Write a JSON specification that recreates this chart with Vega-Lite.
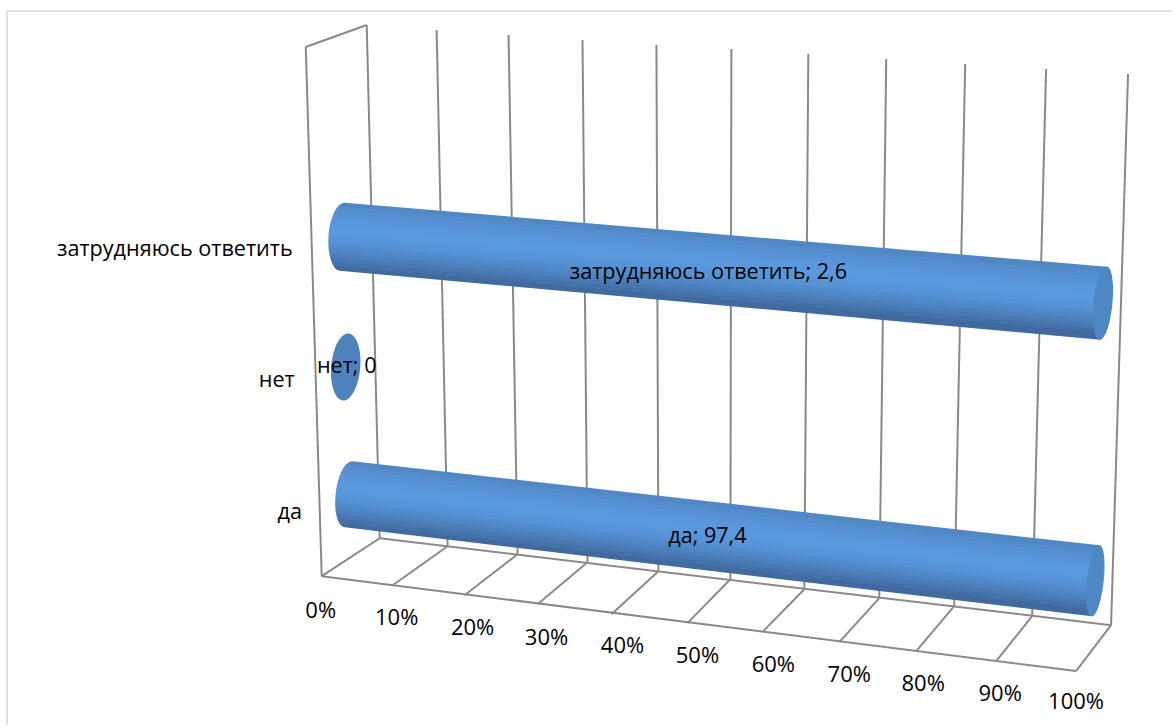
{
"$schema":"https://vega.github.io/schema/vega-lite/v6.json",
"width":1173,"height":726,"padding":0,
"autosize":{"type":"fit","contains":"padding"},
"background":"white",
"config":{"view":{"stroke":null}},
"datasets":{
"frame":[{"x":7,"y":11,"x2":1173,"y2":11},{"x":7,"y":11,"x2":7,"y2":726}],
"grid":[
{"name":"wall top","x":306,"y":47,"x2":367,"y2":25},
{"name":"wall left","x":306,"y":47,"x2":322,"y2":577},
{"name":"front floor","x":322,"y":577,"x2":1077,"y2":672},
{"name":"back floor","x":380,"y":539,"x2":1112,"y2":626},
{"name":"0% back","x":367,"y":25,"x2":380,"y2":539},
{"name":"10% back","x":437,"y":30,"x2":448,"y2":547},
{"name":"20% back","x":509,"y":35,"x2":518,"y2":555},
{"name":"30% back","x":583,"y":40,"x2":588,"y2":563},
{"name":"40% back","x":657,"y":45,"x2":659,"y2":572},
{"name":"50% back","x":732,"y":49,"x2":731,"y2":580},
{"name":"60% back","x":809,"y":54,"x2":805,"y2":590},
{"name":"70% back","x":887,"y":59,"x2":880,"y2":599},
{"name":"80% back","x":966,"y":64,"x2":955,"y2":607},
{"name":"90% back","x":1047,"y":69,"x2":1033,"y2":617},
{"name":"100% back","x":1129,"y":74,"x2":1112,"y2":626},
{"name":"0% floor","x":322,"y":577,"x2":380,"y2":539},
{"name":"10% floor","x":393,"y":586,"x2":448,"y2":547},
{"name":"20% floor","x":465,"y":596,"x2":518,"y2":555},
{"name":"30% floor","x":538,"y":605,"x2":588,"y2":563},
{"name":"40% floor","x":612,"y":615,"x2":659,"y2":572},
{"name":"50% floor","x":688,"y":624,"x2":731,"y2":580},
{"name":"60% floor","x":763,"y":633,"x2":805,"y2":590},
{"name":"70% floor","x":840,"y":643,"x2":880,"y2":599},
{"name":"80% floor","x":917,"y":652,"x2":955,"y2":607},
{"name":"90% floor","x":997,"y":662,"x2":1033,"y2":617},
{"name":"100% floor","x":1077,"y":672,"x2":1112,"y2":626}
],
"ticks":[
{"label":"0%","x":321,"y":612},{"label":"10%","x":397,"y":619},{"label":"20%","x":473,"y":629},
{"label":"30%","x":547,"y":639},{"label":"40%","x":623,"y":647},{"label":"50%","x":698,"y":657},
{"label":"60%","x":774,"y":666},{"label":"70%","x":850,"y":676},{"label":"80%","x":924,"y":685},
{"label":"90%","x":1001,"y":695},{"label":"100%","x":1077,"y":703}
],
"bars":[
{"category":"затрудняюсь ответить","value":2.6,"label":"затрудняюсь ответить; 2,6","startX":342.5,"startY":237,"endX":1104,"endY":303.5,"labelX":709,"labelY":273,"catX":175,"catY":250},
{"category":"нет","value":0,"label":"нет; 0","startX":346,"startY":367.5,"endX":346,"endY":367.5,"labelX":347,"labelY":368,"catX":277,"catY":382},
{"category":"да","value":97.4,"label":"да; 97,4","startX":349,"startY":495,"endX":1096,"endY":581.5,"labelX":708,"labelY":538,"catX":290,"catY":514}
]
},
"layer":[
{"data":{"name":"frame"},"mark":{"type":"rule","color":"#e0e0e0","strokeWidth":2},
"encoding":{"x":{"field":"x","type":"quantitative","scale":{"domain":[0,1173],"nice":false,"zero":false},"axis":null},"y":{"field":"y","type":"quantitative","scale":{"domain":[726,0],"nice":false,"zero":false},"axis":null},"x2":{"field":"x2"},"y2":{"field":"y2"}}},
{"data":{"name":"grid"},"mark":{"type":"rule","color":"#8a8a8a","strokeWidth":2},
"encoding":{"x":{"field":"x","type":"quantitative","axis":null},"y":{"field":"y","type":"quantitative","axis":null},"x2":{"field":"x2"},"y2":{"field":"y2"}}},
{"data":{"name":"bars"},"transform":[{"filter":"datum.category==='затрудняюсь ответить'"}],
"mark":{"type":"point","filled":true,"opacity":1,"size":4,"strokeWidth":0,
"shape":"M2.5,-34 L764.5,30 A9,36.7,5.5,0,1,757.5,103 L-2.5,34 A14,34.1,4.2,0,1,2.5,-34 Z",
"fill":{"gradient":"linear","x1":0.5,"y1":0.238,"x2":0.301,"y2":0.638,"stops":[
{"offset":0,"color":"#5287c6"},{"offset":0.0625,"color":"#5287c6"},{"offset":0.0625,"color":"#548ccc"},{"offset":0.125,"color":"#548ccc"},{"offset":0.125,"color":"#5690d2"},{"offset":0.1875,"color":"#5690d2"},{"offset":0.1875,"color":"#5894d6"},{"offset":0.25,"color":"#5894d6"},{"offset":0.25,"color":"#5996da"},{"offset":0.3125,"color":"#5996da"},{"offset":0.3125,"color":"#5a98dc"},{"offset":0.375,"color":"#5a98dc"},{"offset":0.375,"color":"#5b99de"},{"offset":0.4375,"color":"#5b99de"},{"offset":0.4375,"color":"#5a98dc"},{"offset":0.5,"color":"#5a98dc"},{"offset":0.5,"color":"#5896d9"},{"offset":0.5625,"color":"#5896d9"},{"offset":0.5625,"color":"#5692d5"},{"offset":0.625,"color":"#5692d5"},{"offset":0.625,"color":"#538ccd"},{"offset":0.6875,"color":"#538ccd"},{"offset":0.6875,"color":"#4f86c5"},{"offset":0.75,"color":"#4f86c5"},{"offset":0.75,"color":"#4c80bc"},{"offset":0.8125,"color":"#4c80bc"},{"offset":0.8125,"color":"#4978b2"},{"offset":0.875,"color":"#4978b2"},{"offset":0.875,"color":"#4571a9"},{"offset":0.9375,"color":"#4571a9"},{"offset":0.9375,"color":"#416aa0"},{"offset":1,"color":"#416aa0"}]}},
"encoding":{"x":{"field":"startX","type":"quantitative","axis":null},"y":{"field":"startY","type":"quantitative","axis":null}}},
{"data":{"name":"bars"},"transform":[{"filter":"datum.category==='затрудняюсь ответить'"}],
"mark":{"type":"point","filled":true,"opacity":1,"size":4,"strokeWidth":0,"fill":"#4f86c4",
"shape":"M3.5,-36.5 A9,36.7,5.5,1,1,-3.5,36.5 A9,36.7,5.5,1,1,3.5,-36.5 Z"},
"encoding":{"x":{"field":"endX","type":"quantitative","axis":null},"y":{"field":"endY","type":"quantitative","axis":null}}},
{"data":{"name":"bars"},"transform":[{"filter":"datum.category==='нет'"}],
"mark":{"type":"point","filled":true,"opacity":1,"size":4,"strokeWidth":0,"fill":"#4f81bd",
"shape":"M3,-33.5 A14.5,33.6,5,1,1,-3,33.5 A14.5,33.6,5,1,1,3,-33.5 Z"},
"encoding":{"x":{"field":"startX","type":"quantitative","axis":null},"y":{"field":"startY","type":"quantitative","axis":null}}},
{"data":{"name":"bars"},"transform":[{"filter":"datum.category==='да'"}],
"mark":{"type":"point","filled":true,"opacity":1,"size":4,"strokeWidth":0,
"shape":"M4,-33 L751,51 A8,35.7,6.4,0,1,743,122 L-4,33 A13,33.2,6.9,0,1,4,-33 Z",
"fill":{"gradient":"linear","x1":0.5,"y1":0.2735,"x2":0.3138,"y2":0.5988,"stops":[
{"offset":0,"color":"#5287c6"},{"offset":0.0625,"color":"#5287c6"},{"offset":0.0625,"color":"#548ccc"},{"offset":0.125,"color":"#548ccc"},{"offset":0.125,"color":"#5690d2"},{"offset":0.1875,"color":"#5690d2"},{"offset":0.1875,"color":"#5894d6"},{"offset":0.25,"color":"#5894d6"},{"offset":0.25,"color":"#5996da"},{"offset":0.3125,"color":"#5996da"},{"offset":0.3125,"color":"#5a98dc"},{"offset":0.375,"color":"#5a98dc"},{"offset":0.375,"color":"#5b99de"},{"offset":0.4375,"color":"#5b99de"},{"offset":0.4375,"color":"#5a98dc"},{"offset":0.5,"color":"#5a98dc"},{"offset":0.5,"color":"#5896d9"},{"offset":0.5625,"color":"#5896d9"},{"offset":0.5625,"color":"#5692d5"},{"offset":0.625,"color":"#5692d5"},{"offset":0.625,"color":"#538ccd"},{"offset":0.6875,"color":"#538ccd"},{"offset":0.6875,"color":"#4f86c5"},{"offset":0.75,"color":"#4f86c5"},{"offset":0.75,"color":"#4c80bc"},{"offset":0.8125,"color":"#4c80bc"},{"offset":0.8125,"color":"#4978b2"},{"offset":0.875,"color":"#4978b2"},{"offset":0.875,"color":"#4571a9"},{"offset":0.9375,"color":"#4571a9"},{"offset":0.9375,"color":"#416aa0"},{"offset":1,"color":"#416aa0"}]}},
"encoding":{"x":{"field":"startX","type":"quantitative","axis":null},"y":{"field":"startY","type":"quantitative","axis":null}}},
{"data":{"name":"bars"},"transform":[{"filter":"datum.category==='да'"}],
"mark":{"type":"point","filled":true,"opacity":1,"size":4,"strokeWidth":0,"fill":"#4f86c4",
"shape":"M4,-35.5 A8,35.7,6.4,1,1,-4,35.5 A8,35.7,6.4,1,1,4,-35.5 Z"},
"encoding":{"x":{"field":"endX","type":"quantitative","axis":null},"y":{"field":"endY","type":"quantitative","axis":null}}},
{"data":{"name":"bars"},"mark":{"type":"text","font":"Open Sans","fontSize":21.6,"color":"#000000","align":"center","baseline":"middle"},
"encoding":{"x":{"field":"labelX","type":"quantitative","axis":null},"y":{"field":"labelY","type":"quantitative","axis":null},"text":{"field":"label"}}},
{"data":{"name":"bars"},"mark":{"type":"text","font":"Open Sans","fontSize":21.6,"color":"#000000","align":"center","baseline":"middle"},
"encoding":{"x":{"field":"catX","type":"quantitative","axis":null},"y":{"field":"catY","type":"quantitative","axis":null},"text":{"field":"category"}}},
{"data":{"name":"ticks"},"mark":{"type":"text","font":"Open Sans","fontSize":22,"color":"#000000","align":"center","baseline":"middle"},
"encoding":{"x":{"field":"x","type":"quantitative","axis":null},"y":{"field":"y","type":"quantitative","axis":null},"text":{"field":"label"}}}
]
}
